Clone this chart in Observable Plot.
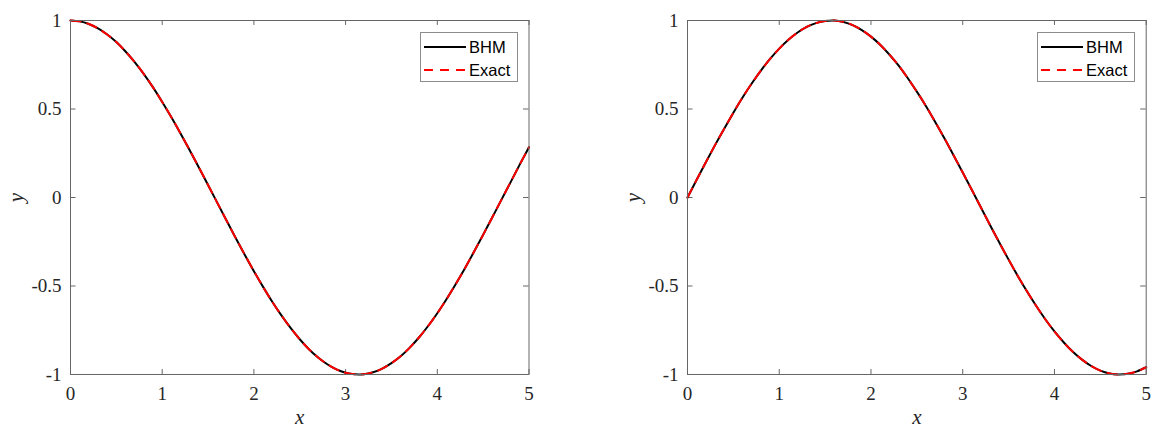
<!DOCTYPE html>
<html>
<head>
<meta charset="utf-8">
<script src="https://cdn.jsdelivr.net/npm/d3@7"></script>
<script src="https://cdn.jsdelivr.net/npm/@observablehq/plot@0.6"></script>
<style>
  html, body { margin: 0; padding: 0; background: #fff; }
  #wrap { position: relative; width: 1153px; height: 428px; }
  .panel { position: absolute; top: 0; background: #fff; }
  .legend { position: absolute; box-sizing: border-box; border: 1px solid #8c8c8c; background: #fff;
            font-family: "Liberation Sans", Arial, sans-serif; font-size: 16.5px; color: #000; }
  .legend .row { position: absolute; left: 3px; height: 20px; display: flex; align-items: center; }
  .legend svg { display: block; }
  .legend span { margin-left: 3px; }
</style>
</head>
<body>
<div id="wrap"></div>
<script>
// Values (left panel and right panel curves)
const xs = [0, 0.1, 0.2, 0.3, 0.4, 0.5, 0.6, 0.7, 0.8, 0.9, 1, 1.1, 1.2, 1.3, 1.4, 1.5, 1.6, 1.7, 1.8, 1.9, 2,
            2.1, 2.2, 2.3, 2.4, 2.5, 2.6, 2.7, 2.8, 2.9, 3, 3.1, 3.2, 3.3, 3.4, 3.5, 3.6, 3.7, 3.8, 3.9, 4,
            4.1, 4.2, 4.3, 4.4, 4.5, 4.6, 4.7, 4.8, 4.9, 5];
const yLeftBHM = [1.000, 0.995, 0.980, 0.955, 0.921, 0.878, 0.825, 0.765, 0.697, 0.622, 0.540,
                  0.454, 0.362, 0.267, 0.170, 0.071, -0.029, -0.129, -0.227, -0.323, -0.416,
                  -0.505, -0.589, -0.666, -0.737, -0.801, -0.857, -0.904, -0.942, -0.971, -0.990,
                  -0.999, -0.998, -0.987, -0.967, -0.936, -0.897, -0.848, -0.791, -0.726, -0.654,
                  -0.575, -0.490, -0.401, -0.307, -0.211, -0.112, -0.012, 0.087, 0.187, 0.284];
const yLeftExact = [1.000, 0.995, 0.980, 0.955, 0.921, 0.878, 0.825, 0.765, 0.697, 0.622, 0.540,
                  0.454, 0.362, 0.267, 0.170, 0.071, -0.029, -0.129, -0.227, -0.323, -0.416,
                  -0.505, -0.589, -0.666, -0.737, -0.801, -0.857, -0.904, -0.942, -0.971, -0.990,
                  -0.999, -0.998, -0.987, -0.967, -0.936, -0.897, -0.848, -0.791, -0.726, -0.654,
                  -0.575, -0.490, -0.401, -0.307, -0.211, -0.112, -0.012, 0.087, 0.187, 0.284];
const yRightBHM = [0.000, 0.100, 0.199, 0.296, 0.389, 0.479, 0.565, 0.644, 0.717, 0.783, 0.841,
                   0.891, 0.932, 0.964, 0.985, 0.997, 1.000, 0.992, 0.974, 0.946, 0.909,
                   0.863, 0.808, 0.746, 0.675, 0.598, 0.516, 0.427, 0.335, 0.239, 0.141,
                   0.042, -0.058, -0.158, -0.256, -0.351, -0.443, -0.530, -0.612, -0.688, -0.757,
                   -0.818, -0.872, -0.916, -0.952, -0.978, -0.994, -1.000, -0.996, -0.982, -0.959];
const yRightExact = [0.000, 0.100, 0.199, 0.296, 0.389, 0.479, 0.565, 0.644, 0.717, 0.783, 0.841,
                   0.891, 0.932, 0.964, 0.985, 0.997, 1.000, 0.992, 0.974, 0.946, 0.909,
                   0.863, 0.808, 0.746, 0.675, 0.598, 0.516, 0.427, 0.335, 0.239, 0.141,
                   0.042, -0.058, -0.158, -0.256, -0.351, -0.443, -0.530, -0.612, -0.688, -0.757,
                   -0.818, -0.872, -0.916, -0.952, -0.978, -0.994, -1.000, -0.996, -0.982, -0.959];
const xTicks = [0, 1, 2, 3, 4, 5];
const yTicks = [-1, -0.5, 0, 0.5, 1];
const yTickLabels = ["-1", "-0.5", "0", "0.5", "1"];
const seriesNames = ["BHM", "Exact"];
const xLabel = "x";
const yLabel = "y";

const serif = "\"Liberation Serif\", \"Times New Roman\", \"DejaVu Serif\", serif";
const axisColor = "#262626";

function makePanel(xv, yb, ye, opts) {
  const bhm = xv.map((x, i) => ({x, y: yb[i]}));
  const ex = xv.map((x, i) => ({x, y: ye[i]}));
  const tl = 0.028; // tick length in y units (~5px)
  const tlx = 0.06; // tick length in x units (~5.5px)
  return Plot.plot({
    width: opts.width,
    height: 428,
    marginLeft: opts.ml,
    marginRight: opts.mr,
    marginTop: 20,
    marginBottom: 54,
    style: {background: "#fff", overflow: "visible"},
    x: {domain: [0, 5]},
    y: {domain: [-1, 1]},
    marks: [
      Plot.axisX(xTicks, {tickSize: 0, tickPadding: 12, label: null, fill: axisColor, className: "tk"}),
      Plot.axisY(yTicks, {tickSize: 0, tickPadding: 9, label: null, fill: axisColor, className: "tk",
                          tickFormat: (d) => yTickLabels[yTicks.indexOf(d)]}),
      // inward tick marks on all four sides
      Plot.ruleX(xTicks, {x: d => d, y1: -1, y2: -1 + tl, stroke: "#666", strokeWidth: 1}),
      Plot.ruleX(xTicks, {x: d => d, y1: 1, y2: 1 - tl, stroke: "#666", strokeWidth: 1}),
      Plot.ruleY(yTicks, {y: d => d, x1: 0, x2: tlx, stroke: "#666", strokeWidth: 1}),
      Plot.ruleY(yTicks, {y: d => d, x1: 5, x2: 5 - tlx, stroke: "#666", strokeWidth: 1}),
      Plot.line(bhm, {x: "x", y: "y", stroke: "#000", strokeWidth: 2, curve: "natural"}),
      Plot.line(ex, {x: "x", y: "y", stroke: "#ff0000", strokeWidth: 2, strokeDasharray: "10,7", curve: "natural"}),
      Plot.frame({stroke: "#666", strokeWidth: 1}),
      Plot.text([xLabel], {frameAnchor: "bottom", dy: 43, lineAnchor: "middle", textAnchor: "middle", text: d => d, fill: axisColor, className: "lbl"}),
      Plot.text([yLabel], {frameAnchor: "left", dx: -54, lineAnchor: "middle", textAnchor: "middle", text: d => d, rotate: -90, fill: axisColor, className: "lbl"})
    ]
  });
}

function styleText(svg) {
  d3.select(svg).selectAll("text")
    .style("font-family", serif)
    .style("font-size", "19px");
  d3.select(svg).selectAll(".lbl text")
    .style("font-size", "21px")
    .style("font-style", "italic");
}

function makeLegend(left, top) {
  const lg = document.createElement("div");
  lg.className = "legend";
  lg.style.left = left + "px";
  lg.style.top = top + "px";
  lg.style.width = "98px";
  lg.style.height = "50px";
  const styles = [{stroke: "#000", dash: null}, {stroke: "#ff0000", dash: "9,7"}];
  seriesNames.forEach((name, i) => {
    const row = document.createElement("div");
    row.className = "row";
    row.style.top = (4 + i * 23) + "px";
    const ns = "http://www.w3.org/2000/svg";
    const s = document.createElementNS(ns, "svg");
    s.setAttribute("width", "42"); s.setAttribute("height", "20");
    const l = document.createElementNS(ns, "line");
    l.setAttribute("x1", "0"); l.setAttribute("x2", "42");
    l.setAttribute("y1", "10"); l.setAttribute("y2", "10");
    l.setAttribute("stroke", styles[i].stroke); l.setAttribute("stroke-width", "2");
    if (styles[i].dash) l.setAttribute("stroke-dasharray", styles[i].dash);
    s.appendChild(l);
    row.appendChild(s);
    const t = document.createElement("span");
    t.textContent = name;
    row.appendChild(t);
    lg.appendChild(row);
  });
  return lg;
}

const wrap = document.getElementById("wrap");
const p1 = makePanel(xs, yLeftBHM, yLeftExact, {width: 576, ml: 70, mr: 47.5});
p1.classList.add("panel"); p1.style.left = "0px";
const p2 = makePanel(xs, yRightBHM, yRightExact, {width: 577, ml: 111, mr: 7.3});
p2.classList.add("panel"); p2.style.left = "576px";
styleText(p1); styleText(p2);
wrap.appendChild(p1);
wrap.appendChild(p2);
wrap.appendChild(makeLegend(420, 32));
wrap.appendChild(makeLegend(1037, 32));
</script>
</body>
</html>
